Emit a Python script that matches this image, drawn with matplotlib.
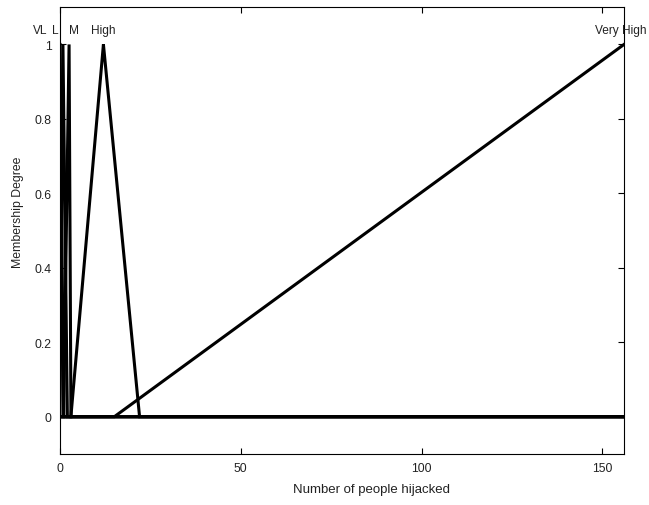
import matplotlib.pyplot as plt
import numpy as np

plt.rcParams['font.family'] = ['Liberation Sans', 'DejaVu Sans']

# triangular membership functions [a, b, c]
mf_names = ["VL", "L", "M", "High", "Very High"]
mf_params = [[0, 0, 1], [0, 0.8, 2], [1, 2.5, 3], [3, 12, 22], [15, 156, 156]]
label_x = [-5.5, -1.4, 4, 12, 155.2]
x_range = [0, 156]


def trimf(x, a, b, c):
    y = np.zeros_like(x)
    if b > a:
        m = (x >= a) & (x <= b)
        y[m] = (x[m] - a) / (b - a)
    if c > b:
        m = (x >= b) & (x <= c)
        y[m] = (c - x[m]) / (c - b)
    y[x == b] = 1
    return y


x = np.linspace(x_range[0], x_range[1], 3001)
x = np.unique(np.concatenate([x, np.array(mf_params, dtype=float).ravel()]))

fig = plt.figure(figsize=(6.49, 5.06), dpi=100)
ax = fig.add_axes([0.0925, 0.1008, 0.869, 0.883])

for (a, b, c) in mf_params:
    ax.plot(x, trimf(x, a, b, c), color="black", lw=2.2, solid_joinstyle="miter")

for name, lx in zip(mf_names, label_x):
    ax.text(lx, 1.04, name, ha="center", va="center", fontsize=8.6,
            color="#222222", clip_on=False)

ax.set_xlim(x_range)
ax.set_ylim(-0.1, 1.1)
ax.set_xticks([0, 50, 100, 150])
ax.set_yticks([0, 0.2, 0.4, 0.6, 0.8, 1])
ax.set_yticklabels(["0", "0.2", "0.4", "0.6", "0.8", "1"])
ax.tick_params(direction="in", top=True, right=True, length=4, labelsize=8.8,
               pad=6, labelcolor="#222222")
for s in ax.spines.values():
    s.set_linewidth(0.8)
ax.set_xlabel("Number of people hijacked", fontsize=9.5, color="#222222")
ax.set_ylabel("Membership Degree", fontsize=8.8, color="#222222")
ax.xaxis.set_label_coords(0.553, -0.066)
ax.yaxis.set_label_coords(-0.064, 0.544)

plt.savefig("out.png", dpi=100)
